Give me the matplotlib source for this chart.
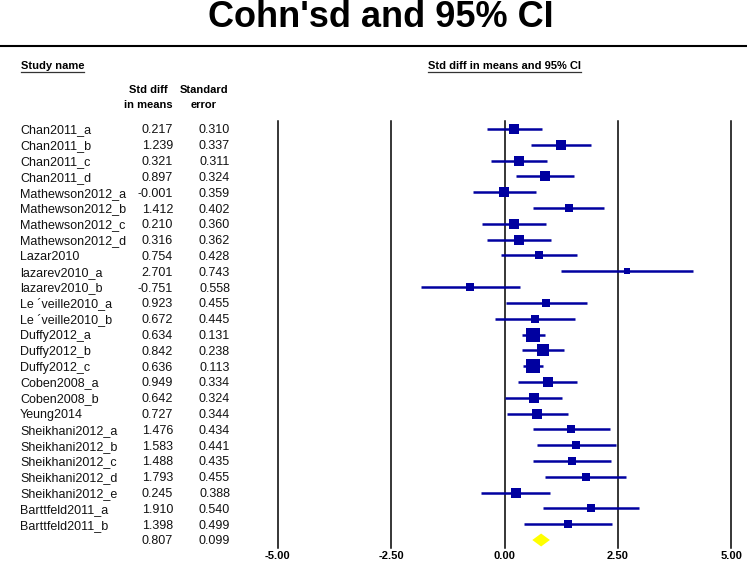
import numpy as np
import matplotlib
matplotlib.use("Agg")
import matplotlib.pyplot as plt
from matplotlib.lines import Line2D
from matplotlib.patches import Polygon
from matplotlib.transforms import blended_transform_factory, IdentityTransform, offset_copy

plt.rcParams['font.family'] = ['Liberation Sans', 'DejaVu Sans']

studies = ["Chan2011_a", "Chan2011_b", "Chan2011_c", "Chan2011_d",
           "Mathewson2012_a", "Mathewson2012_b", "Mathewson2012_c", "Mathewson2012_d",
           "Lazar2010", "lazarev2010_a", "lazarev2010_b",
           "Le \u00b4veille2010_a", "Le \u00b4veille2010_b",
           "Duffy2012_a", "Duffy2012_b", "Duffy2012_c",
           "Coben2008_a", "Coben2008_b", "Yeung2014",
           "Sheikhani2012_a", "Sheikhani2012_b", "Sheikhani2012_c",
           "Sheikhani2012_d", "Sheikhani2012_e",
           "Barttfeld2011_a", "Barttfeld2011_b"]
smd = [0.217, 1.239, 0.321, 0.897, -0.001, 1.412, 0.210, 0.316, 0.754, 2.701,
       -0.751, 0.923, 0.672, 0.634, 0.842, 0.636, 0.949, 0.642, 0.727, 1.476,
       1.583, 1.488, 1.793, 0.245, 1.910, 1.398]
se = [0.310, 0.337, 0.311, 0.324, 0.359, 0.402, 0.360, 0.362, 0.428, 0.743,
      0.558, 0.455, 0.445, 0.131, 0.238, 0.113, 0.334, 0.324, 0.344, 0.434,
      0.441, 0.435, 0.455, 0.388, 0.540, 0.499]
summary_smd = 0.807
summary_se = 0.099
xticks = [-5.0, -2.5, 0.0, 2.5, 5.0]

W, H = 747, 562
fig = plt.figure(figsize=(W / 100, H / 100), dpi=100)

# forest axes: vertical grid lines run from y=121px to y=548px
pitch = (540 - 129) / 26
ax = fig.add_axes([277.7 / W, 1 - 548 / H, (731.3 - 277.7) / W, (548 - 121) / H])
ax.set_xlim(-5, 5)
ax.set_ylim((548 - 129) / pitch, (121 - 129) / pitch)
for s in ax.spines.values():
    s.set_visible(False)
ax.set_yticks([])
ax.set_xticks(xticks)
ax.set_xticklabels([f"{t:.2f}" for t in xticks], fontsize=8, fontweight='bold')
ax.tick_params(axis='x', length=0, pad=2.5)
for t in xticks:
    ax.axvline(t, color='black', lw=1.1, clip_on=False, zorder=1)

blue = '#0000A0'
smd_a = np.array(smd)
se_a = np.array(se)
rows = np.arange(len(studies))
lo = smd_a - 1.96 * se_a
hi = smd_a + 1.96 * se_a
ax.hlines(rows, lo, hi, color=blue, lw=1.8, zorder=2)
# box size from random-effects style weights
w = 1 / (se_a ** 2 + 0.1)
side = 4.6 * np.sqrt(w) * 0.72  # px -> pt
for r, m, s in zip(rows, smd_a, side):
    ax.plot(m, r, marker='s', ms=s, color=blue, mew=0, zorder=3)

# summary diamond
sr = len(studies)
slo = summary_smd - 1.96 * summary_se
shi = summary_smd + 1.96 * summary_se
ax.add_patch(Polygon([(slo, sr), (summary_smd, sr - 0.41), (shi, sr), (summary_smd, sr + 0.41)],
                     closed=True, facecolor='#FFFF00', edgecolor='none', zorder=3))

# left table, baselines shifted so digits sit centred on each row
tr = offset_copy(blended_transform_factory(fig.transFigure, ax.transData), fig=fig, y=-4.5, units='dots')
kw = dict(transform=tr, va='baseline', fontsize=9, color='#111111')
for r, name, m, s in zip(rows, studies, smd, se):
    fig.text(20 / W, r, name, ha='left', **kw)
    fig.text(173 / W, r, f"{m:.3f}", ha='right', **kw)
    fig.text(230 / W, r, f"{s:.3f}", ha='right', **kw)
fig.text(173 / W, sr, f"{summary_smd:.3f}", ha='right', **kw)
fig.text(230 / W, sr, f"{summary_se:.3f}", ha='right', **kw)

# title and rule
fig.text(381 / W, 1 - 27 / H, "Cohn'sd and 95% CI", ha='center', va='baseline',
         fontsize=26, fontweight='bold')
fig.add_artist(Line2D([0, 1], [1 - 46 / H, 1 - 46 / H], transform=fig.transFigure, color='black', lw=1.5))

# headers
hk = dict(fontsize=8, fontweight='bold', va='baseline')
h1 = fig.text(20.7 / W, 1 - 69 / H, "Study name", ha='left', **hk)
tr2 = blended_transform_factory(ax.transAxes, fig.transFigure)
h2 = fig.text(0.5, 1 - 69 / H, "Std diff in means and 95% CI", transform=tr2, ha='center', **hk)
fig.text(148 / W, 1 - 93 / H, "Std diff", ha='center', **hk)
fig.text(148 / W, 1 - 108 / H, "in means", ha='center', **hk)
fig.text(204 / W, 1 - 93 / H, "Standard", ha='center', **hk)
fig.text(204 / W, 1 - 108 / H, "error", ha='center', **hk)

fig.canvas.draw()
renderer = fig.canvas.get_renderer()
for h in (h1, h2):
    bb = h.get_window_extent(renderer)
    fig.add_artist(Line2D([bb.x0, bb.x1], [H - 72, H - 72], transform=IdentityTransform(),
                          color='#333333', lw=0.9))

fig.savefig("out.png", dpi=100)
